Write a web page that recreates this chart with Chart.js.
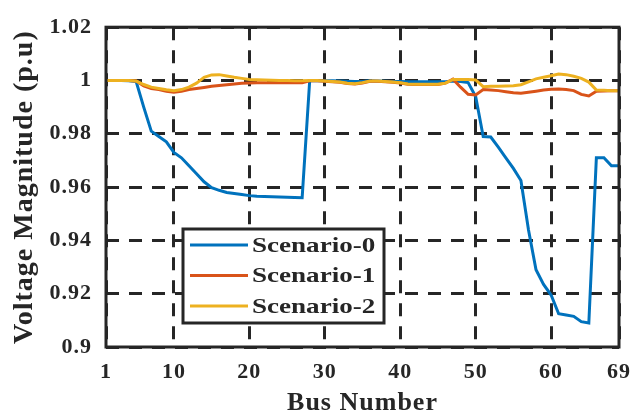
<!DOCTYPE html>
<html lang="en">
<head>
    <meta charset="UTF-8">
    <title>Voltage Magnitude</title>
    <script src="https://cdn.jsdelivr.net/npm/chart.js"></script>
    <style>
        html, body { margin: 0; padding: 0; background: #fff; }
        #wrap { width: 643px; height: 416px; }
    </style>
</head>
<body>
    <div id="wrap"><canvas id="chart" width="643" height="416"></canvas></div>
    <script>
        // bus numbers 1..69
        const buses = [];
        for (let b = 1; b <= 69; b++) buses.push(b);

        const xTicks = [1, 10, 20, 30, 40, 50, 60, 69];
        const yTicks = [0.9, 0.92, 0.94, 0.96, 0.98, 1, 1.02];

        const scenario0 = [
            1.0000, 1.0000, 1.0000, 0.9999, 0.9996, 0.9900, 0.9810, 0.9790, 0.9770, 0.9730,
            0.9710, 0.9680, 0.9650, 0.9620, 0.9598, 0.9588, 0.9580, 0.9576, 0.9572, 0.9568,
            0.9566, 0.9565, 0.9564, 0.9563, 0.9562, 0.9561, 0.9560, 0.9999, 0.9999, 0.9999,
            0.9999, 0.9998, 0.9997, 0.9996, 0.9996, 0.9999, 0.9998, 0.9997, 0.9996, 0.9996,
            0.9995, 0.9995, 0.9995, 0.9995, 0.9995, 0.9995, 0.9998, 0.9996, 0.9992, 0.9940,
            0.9790, 0.9788, 0.9750, 0.9710, 0.9670, 0.9625, 0.9440, 0.9290, 0.9235, 0.9195,
            0.9125, 0.9120, 0.9115, 0.9095, 0.9090, 0.9710, 0.9710, 0.9680, 0.9680
        ];
        const scenario1 = [
            1.0000, 1.0000, 1.0000, 1.0000, 0.9998, 0.9980, 0.9970, 0.9966, 0.9960, 0.9956,
            0.9960, 0.9966, 0.9970, 0.9974, 0.9978, 0.9981, 0.9984, 0.9987, 0.9990, 0.9991,
            0.9992, 0.9992, 0.9992, 0.9992, 0.9992, 0.9992, 0.9992, 0.9999, 0.9999, 0.9997,
            0.9995, 0.9993, 0.9989, 0.9987, 0.9991, 0.9997, 0.9997, 0.9995, 0.9993, 0.9991,
            0.9986, 0.9985, 0.9985, 0.9985, 0.9985, 0.9990, 1.0005, 0.9975, 0.9948, 0.9946,
            0.9966, 0.9964, 0.9962, 0.9958, 0.9954, 0.9952, 0.9956, 0.9960, 0.9964, 0.9967,
            0.9968, 0.9966, 0.9962, 0.9948, 0.9942, 0.9960, 0.9961, 0.9962, 0.9962
        ];
        const scenario2 = [
            1.0000, 1.0000, 1.0000, 1.0000, 0.9998, 0.9985, 0.9975, 0.9970, 0.9965, 0.9962,
            0.9966, 0.9975, 0.9990, 1.0012, 1.0021, 1.0022, 1.0017, 1.0012, 1.0008, 1.0004,
            1.0003, 1.0002, 1.0001, 1.0000, 1.0000, 0.9999, 0.9999, 1.0000, 1.0000, 0.9998,
            0.9996, 0.9994, 0.9990, 0.9988, 0.9992, 0.9998, 0.9998, 0.9996, 0.9994, 0.9992,
            0.9987, 0.9986, 0.9986, 0.9986, 0.9986, 0.9990, 1.0004, 1.0004, 1.0004, 1.0002,
            0.9977, 0.9978, 0.9978, 0.9979, 0.9980, 0.9984, 0.9995, 1.0006, 1.0012, 1.0018,
            1.0024, 1.0022, 1.0016, 1.0008, 0.9994, 0.9964, 0.9963, 0.9962, 0.9962
        ];

        const seriesNames = ['Scenario-0', 'Scenario-1', 'Scenario-2'];
        const seriesColors = ['#0072BD', '#D95319', '#EDB120'];
        const seriesData = [scenario0, scenario1, scenario2];

        const ink = '#262626';
        const serif = "'Liberation Serif', 'Times New Roman', serif";

        // slightly wider lettering, like the stretched original
        const spacing = {
            id: 'spacing',
            beforeUpdate(chart) { chart.ctx.letterSpacing = '1px'; },
            beforeDraw(chart) { chart.ctx.letterSpacing = '1px'; }
        };

        // MATLAB-style box around the axes
        const boxPlugin = {
            id: 'box',
            afterDatasetsDraw(chart) {
                const a = chart.chartArea;
                const ctx = chart.ctx;
                ctx.save();
                ctx.strokeStyle = ink;
                ctx.lineWidth = 3;
                ctx.strokeRect(a.left, a.top, a.right - a.left, a.bottom - a.top);
                ctx.restore();
            }
        };

        // legend box inside the plot, lower left
        const legendBox = {
            id: 'legendBox',
            afterDraw(chart) {
                const ctx = chart.ctx;
                const x0 = 183, y0 = 229, w = 201, h = 94;
                ctx.save();
                ctx.fillStyle = '#fff';
                ctx.fillRect(x0, y0, w, h);
                ctx.strokeStyle = ink;
                ctx.lineWidth = 3;
                ctx.strokeRect(x0, y0, w, h);
                ctx.font = 'bold 22px ' + serif;
                ctx.letterSpacing = '0px';
                ctx.textBaseline = 'middle';
                ctx.fillStyle = ink;
                chart.data.datasets.forEach((ds, i) => {
                    const y = 245 + i * 30.5;
                    ctx.strokeStyle = ds.borderColor;
                    ctx.lineWidth = 3;
                    ctx.beginPath();
                    ctx.moveTo(190, y);
                    ctx.lineTo(248, y);
                    ctx.stroke();
                    ctx.save();
                    ctx.translate(252, y + 1);
                    ctx.scale(1.23, 1);
                    ctx.fillText(ds.label, 0, 0);
                    ctx.restore();
                });
                ctx.restore();
            }
        };

        // later series are drawn on top, as in the original
        const datasets = seriesNames.map((name, i) => ({
            label: name,
            data: buses.map((b, j) => ({ x: b, y: seriesData[i][j] })),
            borderColor: seriesColors[i],
            backgroundColor: seriesColors[i],
            borderWidth: 3,
            pointRadius: 0,
            tension: 0,
            fill: false,
            order: seriesNames.length - i
        }));

        new Chart(document.getElementById('chart'), {
            type: 'line',
            data: { datasets },
            options: {
                responsive: false,
                animation: false,
                layout: { padding: { top: 14, right: 24, left: 0, bottom: 0 } },
                plugins: {
                    legend: { display: false },
                    tooltip: { enabled: false }
                },
                scales: {
                    x: {
                        type: 'linear',
                        min: 1,
                        max: 69,
                        afterBuildTicks: s => { s.ticks = xTicks.map(v => ({ value: v })); },
                        afterFit: s => { s.height = 69; },
                        grid: { color: ink, lineWidth: 3, drawTicks: false },
                        border: { display: false, dash: [13, 10] },
                        ticks: {
                            color: ink,
                            padding: 12,
                            maxRotation: 0,
                            font: { family: serif, size: 22, weight: 'bold' }
                        },
                        title: {
                            display: true,
                            text: 'Bus Number',
                            color: ink,
                            padding: { top: 0, bottom: 0 },
                            font: { family: serif, size: 26, weight: 'bold', lineHeight: 1 }
                        }
                    },
                    y: {
                        min: 0.9,
                        max: 1.02,
                        afterBuildTicks: s => { s.ticks = yTicks.map(v => ({ value: v })); },
                        afterFit: s => { s.width = 106; },
                        grid: { color: ink, lineWidth: 3, drawTicks: false },
                        border: { display: false, dash: [13, 10] },
                        ticks: {
                            color: ink,
                            padding: 14,
                            callback: v => String(Math.round(v * 100) / 100),
                            font: { family: serif, size: 22, weight: 'bold' }
                        },
                        title: {
                            display: true,
                            text: 'Voltage Magnitude (p.u)',
                            color: ink,
                            padding: { top: 11, bottom: 0 },
                            font: { family: serif, size: 28, weight: 'bold', lineHeight: 1 }
                        }
                    }
                }
            },
            plugins: [spacing, boxPlugin, legendBox]
        });
    </script>
</body>
</html>
